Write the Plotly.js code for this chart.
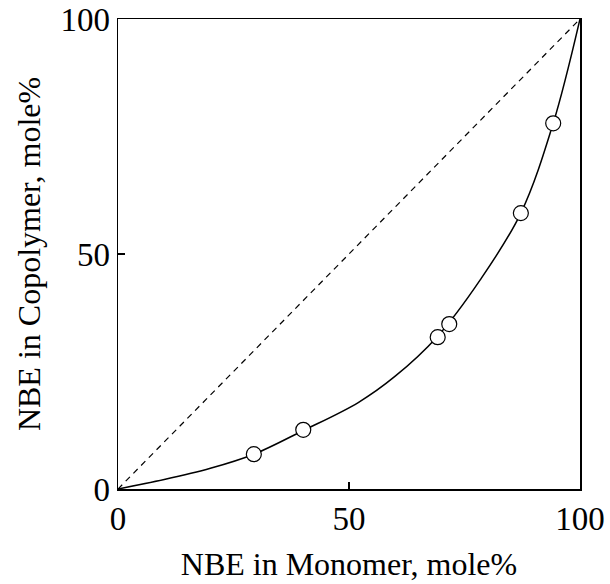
<!DOCTYPE html>
<html>
<head>
<meta charset="utf-8">
<script src="https://cdn.plot.ly/plotly-3.0.1.min.js"></script>
<style>html,body{margin:0;padding:0;background:#fff}</style>
</head>
<body>
<div id="chart" style="width:610px;height:584px"></div>
<script>
// Measured data points (NBE in monomer vs copolymer, mole%)
const pointX = [29.4, 40.1, 69.2, 71.7, 87.2, 94.2];
const pointY = [7.4, 12.6, 32.3, 35.1, 58.7, 77.8];
// Fitted curve
const curveX = [0, 10, 20, 29.4, 40, 52, 60, 69, 78.4, 87.2, 94.2, 100];
const curveY = [0, 2.0, 4.4, 7.4, 12.4, 18.4, 24.0, 32.3, 44.5, 58.7, 77.8, 100];
// Diagonal reference line
const diagX = [0, 100];
const diagY = [0, 100];
const tickVals = [0, 50, 100];
const tickText = ['0', '50', '100'];

const fam = '"Liberation Serif", "Times New Roman", serif';
const tickFont = {family: fam, color: '#000', size: 33};
const titleFont = {family: fam, color: '#000', size: 32};

const data = [
  {x: diagX, y: diagY, mode: 'lines', type: 'scatter',
   line: {color: '#000', width: 1.2, dash: '6px,5px'}, hoverinfo: 'skip'},
  {x: curveX, y: curveY, mode: 'lines', type: 'scatter',
   line: {color: '#000', width: 1.5, shape: 'spline', smoothing: 1}, hoverinfo: 'skip'},
  {x: pointX, y: pointY, mode: 'markers', type: 'scatter',
   marker: {symbol: 'circle', size: 15, color: '#fff', line: {color: '#000', width: 1.2}}}
];

const layout = {
  width: 610, height: 584,
  margin: {l: 118, r: 30, t: 19, b: 95},
  paper_bgcolor: '#fff', plot_bgcolor: '#fff',
  showlegend: false,
  font: tickFont,
  xaxis: {
    range: [0, 100], tickvals: tickVals, ticktext: tickText,
    ticks: 'inside', ticklen: 7, tickwidth: 1.2, tickcolor: '#000',
    showline: true, linecolor: '#000', linewidth: 1.5, mirror: true,
    showgrid: false, zeroline: false, tickfont: tickFont,
    title: {text: 'NBE in Monomer, mole%', font: titleFont, standoff: 16},
    automargin: false
  },
  yaxis: {
    range: [0, 100], tickvals: tickVals, ticktext: tickText,
    ticks: 'inside', ticklen: 7, tickwidth: 1.2, tickcolor: '#000',
    showline: true, linecolor: '#000', linewidth: 1.5, mirror: true,
    showgrid: false, zeroline: false, tickfont: tickFont,
    title: {text: 'NBE in Copolymer, mole%', font: titleFont, standoff: 10},
    automargin: false
  }
};

Plotly.newPlot('chart', data, layout, {staticPlot: true, displayModeBar: false});
</script>
</body>
</html>
